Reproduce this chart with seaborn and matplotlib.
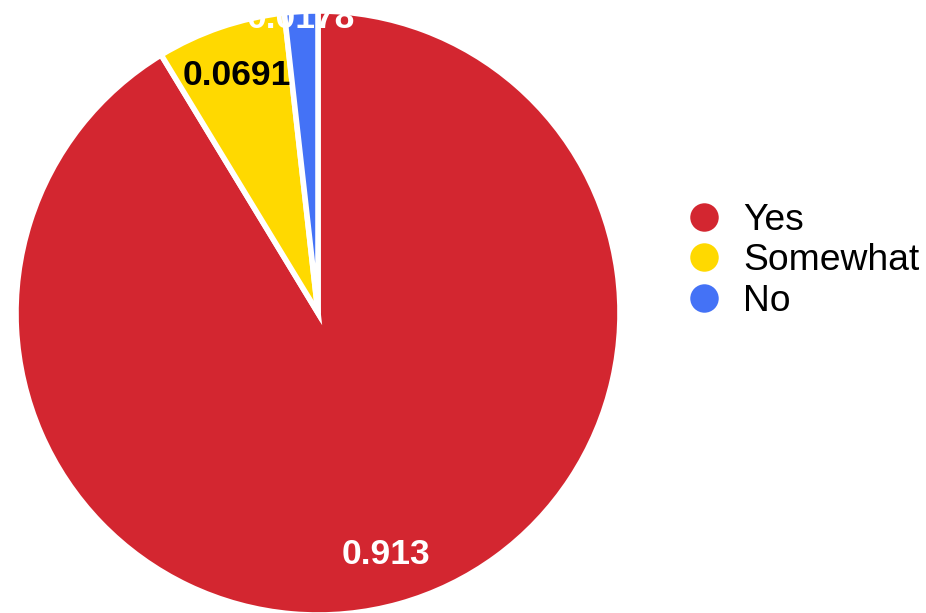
import matplotlib.pyplot as plt
import seaborn as sns
from matplotlib.lines import Line2D

# data
categories = ["Yes", "Somewhat", "No"]
shares = [0.913, 0.0691, 0.0178]
labels = ["0.913", "0.0691", "0.0178"]
colors = ["#d32630", "#ffd900", "#4472f6"]
label_colors = ["white", "black", "white"]

sns.set_theme(style="white")
plt.rcParams["font.family"] = ["Liberation Sans", "DejaVu Sans"]

fig = plt.figure(figsize=(9.26, 6.13), dpi=100)
ax = fig.add_axes([16 / 926, (300 - 302) / 613, 604 / 926, 604 / 613])

wedges, texts = ax.pie(
    shares,
    colors=colors,
    labels=labels,
    startangle=90,
    counterclock=False,
    labeldistance=0.83,
    wedgeprops=dict(edgecolor="white", linewidth=4),
    textprops=dict(fontsize=25.5, fontweight="bold"),
)
for t, c in zip(texts, label_colors):
    t.set_color(c)
    t.set_ha("center")
    t.set_va("center")
# the small slice's label sits at the rim, kept inside the picture
texts[2].set_position((-0.057, 0.975))
texts[2].set_clip_on(False)

ax.set_xlim(-1, 1)
ax.set_ylim(-1, 1)
ax.set_aspect("equal")
ax.axis("off")

handles = [
    Line2D([], [], marker="o", linestyle="", markersize=22,
           markerfacecolor=c, markeredgecolor="white", markeredgewidth=1.5)
    for c in colors
]
leg = fig.legend(handles, categories, loc="center left",
                 bbox_to_anchor=(667 / 926, 1 - 261 / 613),
                 frameon=False, fontsize=26.8, handletextpad=0.45, labelspacing=0.14,
                 handlelength=1.2, borderaxespad=0)
for t in leg.get_texts():
    t.set_color("black")

fig.savefig("out.png", dpi=100)
